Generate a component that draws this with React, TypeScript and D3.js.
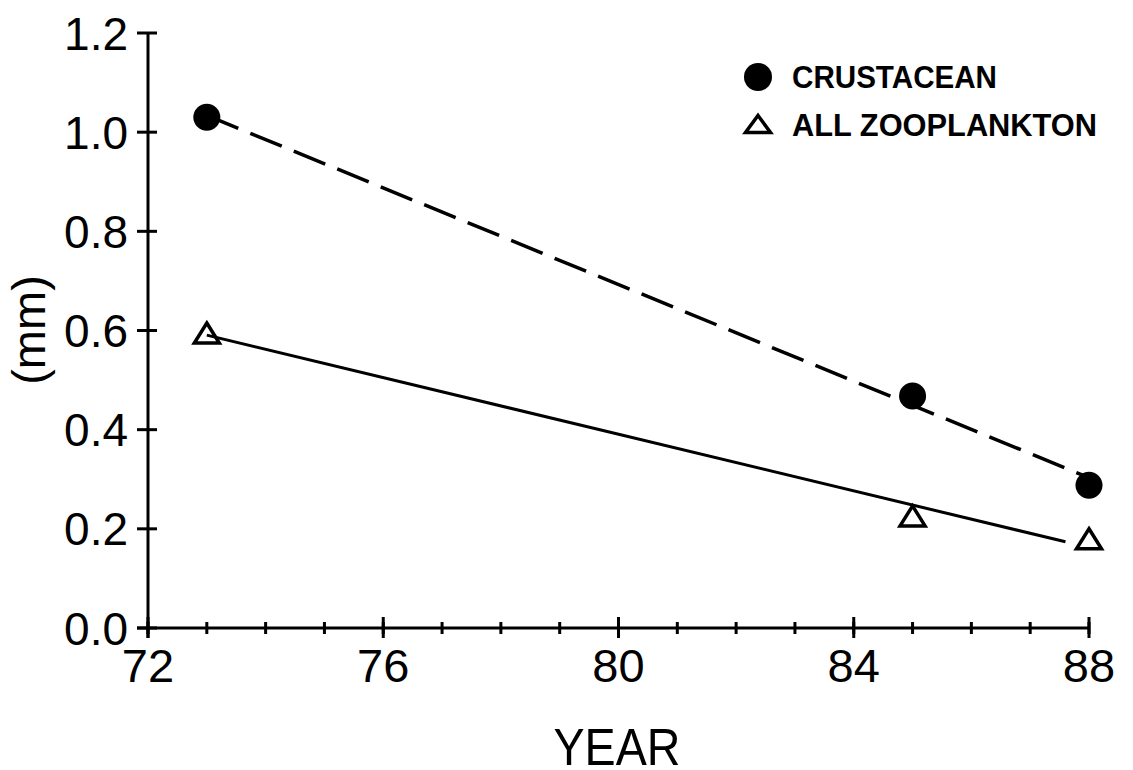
import React from "react";
import * as d3 from "d3";

const years = [73, 85, 88];
const crustacean = [1.03, 0.468, 0.288];
const allZooplankton = [0.595, 0.226, 0.18];
const yTicks = [0, 0.2, 0.4, 0.6, 0.8, 1.0, 1.2];
const xMajorTicks = [72, 76, 80, 84, 88];
const xMinorTicks = d3.range(72, 89, 1);
const solidLineEnd = 87.6;
const legendLabels = ["CRUSTACEAN", "ALL ZOOPLANKTON"];

const W = 1133;
const H = 770;
const FONT = "'Liberation Sans', Arial, Helvetica, sans-serif";

function fit(xs: number[], ys: number[]) {
  const mx = d3.mean(xs)!;
  const my = d3.mean(ys)!;
  let sxy = 0;
  let sxx = 0;
  xs.forEach((x, i) => {
    sxy += (x - mx) * (ys[i] - my);
    sxx += (x - mx) * (x - mx);
  });
  const b = sxy / sxx;
  return (x: number) => my + b * (x - mx);
}

export default function App() {
  const x = d3.scaleLinear().domain([72, 88]).range([148, 1089]);
  const y = d3.scaleLinear().domain([0, 1.2]).range([628, 33]);

  const fC = fit(years, crustacean);
  const fZ = fit(years, allZooplankton);
  const line = d3
    .line<number[]>()
    .x((d) => x(d[0]))
    .y((d) => y(d[1]));

  const dashedPts = [73, 88].map((t) => [t, fC(t)]);
  const solidPts = [73, solidLineEnd].map((t) => [t, fZ(t)]);

  const triPath = (cx: number, cy: number, w: number, h: number) =>
    `M${cx},${cy - h / 2}L${cx + w / 2},${cy + h / 2}L${cx - w / 2},${cy + h / 2}Z`;

  const fmt = d3.format(".1f");

  return (
    <svg
      width={W}
      height={H}
      style={{ position: "absolute", left: 0, top: 0, background: "#fff" }}
      fontFamily={FONT}
    >
      <rect width={W} height={H} fill="#fff" />
      {/* Y axis */}
      <line x1={x(72)} x2={x(72)} y1={y(1.2)} y2={638} stroke="#000" strokeWidth={3} />
      {yTicks.map((t) => (
        <g key={"yt" + t}>
          <line x1={137} x2={157} y1={y(t)} y2={y(t)} stroke="#000" strokeWidth={3} />
          <text
            x={128}
            y={y(t) + 16.5}
            fontSize={46}
            textAnchor="end"
            fill="#000"
          >
            {fmt(t)}
          </text>
        </g>
      ))}
      {/* X axis */}
      <line x1={137} x2={x(88)} y1={y(0)} y2={y(0)} stroke="#000" strokeWidth={3} />
      {xMinorTicks.map((t) => (
        <line key={"xm" + t} x1={x(t)} x2={x(t)} y1={622} y2={634} stroke="#000" strokeWidth={3} />
      ))}
      {xMajorTicks.map((t) => (
        <g key={"xt" + t}>
          <line x1={x(t)} x2={x(t)} y1={617} y2={638} stroke="#000" strokeWidth={3} />
          <text x={x(t)} y={682} fontSize={47} textAnchor="middle" fill="#000">
            {t}
          </text>
        </g>
      ))}
      {/* Axis titles */}
      <text x={617} y={765} fontSize={52} textAnchor="middle" textLength={127} lengthAdjust="spacingAndGlyphs" fill="#000">
        YEAR
      </text>
      <text
        transform="translate(45,330) rotate(-90)"
        fontSize={47}
        textAnchor="middle"
        fill="#000"
      >
        (mm)
      </text>
      {/* Regression lines */}
      <path d={line(dashedPts as any) || ""} fill="none" stroke="#000" strokeWidth={3.5} strokeDasharray="34 13" />
      <path d={line(solidPts as any) || ""} fill="none" stroke="#000" strokeWidth={3} />
      {/* Points */}
      {years.map((t, i) => (
        <circle key={"c" + t} cx={x(t)} cy={y(crustacean[i])} r={13.5} fill="#000" />
      ))}
      {years.map((t, i) => (
        <path
          key={"z" + t}
          d={triPath(x(t), y(allZooplankton[i]), 25, 20)}
          fill="none"
          stroke="#000"
          strokeWidth={3.5}
          strokeLinejoin="miter"
        />
      ))}
      {/* Legend */}
      <circle cx={758} cy={77} r={14} fill="#000" />
      <text x={792} y={88} fontSize={32} fontWeight="bold" textLength={205} lengthAdjust="spacingAndGlyphs" fill="#000">
        {legendLabels[0]}
      </text>
      <path d={triPath(758, 124, 25, 17)} fill="none" stroke="#000" strokeWidth={3.5} />
      <text x={792} y={136} fontSize={32} fontWeight="bold" textLength={305} lengthAdjust="spacingAndGlyphs" fill="#000">
        {legendLabels[1]}
      </text>
    </svg>
  );
}
